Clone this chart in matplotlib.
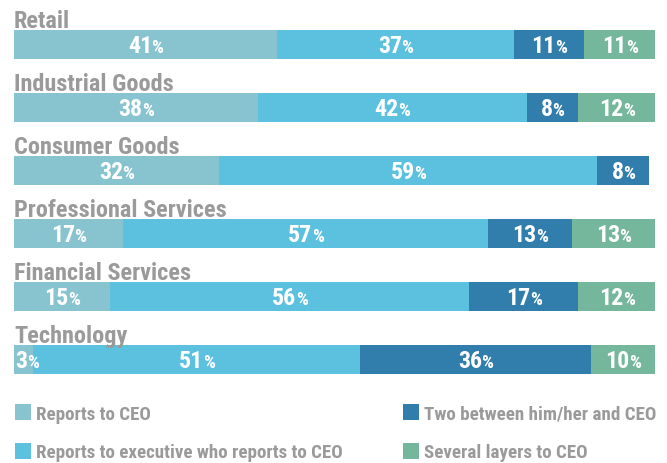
import matplotlib
matplotlib.use("Agg")
import matplotlib.pyplot as plt
from matplotlib import font_manager, transforms
from matplotlib.patches import Rectangle

categories = ["Retail", "Industrial Goods", "Consumer Goods",
              "Professional Services", "Financial Services", "Technology"]
series_names = ["Reports to CEO", "Reports to executive who reports to CEO",
                "Two between him/her and CEO", "Several layers to CEO"]
reports_ceo = [41, 38, 32, 17, 15, 3]
reports_exec = [37, 42, 59, 57, 56, 51]
two_between = [11, 8, 8, 13, 17, 36]
several_layers = [11, 12, 0, 13, 12, 10]
series = [reports_ceo, reports_exec, two_between, several_layers]
colors = ["#88C4CF", "#5CC0DF", "#317DAB", "#74B79C"]
gray = "#9A9A9A"

names = {f.name for f in font_manager.fontManager.ttflist}
font = "DejaVu Sans"
for cand in ["Roboto Condensed", "Roboto", "Liberation Sans Narrow"]:
    if cand in names:
        font = cand
        break
plt.rcParams["font.family"] = [font, "DejaVu Sans"]

W, H = 667, 463
fig = plt.figure(figsize=(W / 100, H / 100), dpi=100)
x0, x1 = 14, 655
ax = fig.add_axes([x0 / W, 0, (x1 - x0) / W, 1])
ax.set_xlim(0, 100)
pitch = 63.0
c0 = 44.5
ax.set_ylim((H - c0) / pitch, -c0 / pitch)
ax.axis("off")
bar_h = 28.5 / pitch

renderer = fig.canvas.get_renderer()
n = len(categories)
lefts = [0] * n
for s, col in zip(series, colors):
    ax.barh(range(n), s, left=lefts, height=bar_h, color=col, linewidth=0)
    for i, v in enumerate(s):
        if v <= 0:
            continue
        cx = lefts[i] + v / 2
        t1 = ax.text(cx, i, f"{v}", ha="right", va="baseline", color="white",
                     fontsize=17.2, fontweight="bold")
        t2 = ax.text(cx, i, "%", ha="left", va="baseline", color="white",
                     fontsize=13.5, fontweight="bold")
        wn = t1.get_window_extent(renderer).width
        wp = t2.get_window_extent(renderer).width
        shift = (wn - wp) / 2
        # keep the label inside the chart on the left
        cx_px = ax.transData.transform((cx, 0))[0]
        left_px = ax.transData.transform((0, 0))[0]
        if cx_px + shift - wn < left_px + 1:
            shift = left_px + 1 - cx_px + wn
        tr = transforms.offset_copy(ax.transData, fig, x=shift + 0.5, y=-8.2, units="dots")
        t1.set_transform(tr)
        tr2 = transforms.offset_copy(ax.transData, fig, x=shift, y=-8.2, units="dots")
        t2.set_transform(tr2)
    lefts = [a + b for a, b in zip(lefts, s)]

for i, c in enumerate(categories):
    tr = transforms.offset_copy(ax.transData, fig, x=0, y=bar_h / 2 * pitch + 2.0, units="dots")
    ax.text(0, i, c, ha="left", va="baseline", color=gray, fontsize=17.5,
            fontweight="bold", transform=tr)

# legend
leg_pos = [(15, 404), (15, 443), (403, 404), (403, 443)]
for (lx, ly), name, col in zip(leg_pos, series_names, colors):
    fig.add_artist(Rectangle((lx / W, (H - ly - 16) / H), 16 / W, 16 / H,
                             transform=fig.transFigure, color=col, linewidth=0))
    fig.text((lx + 21) / W, (H - ly - 15.5) / H, name, ha="left", va="baseline",
             color=gray, fontsize=13.7, fontweight="bold")

fig.savefig("out.png", dpi=100)
